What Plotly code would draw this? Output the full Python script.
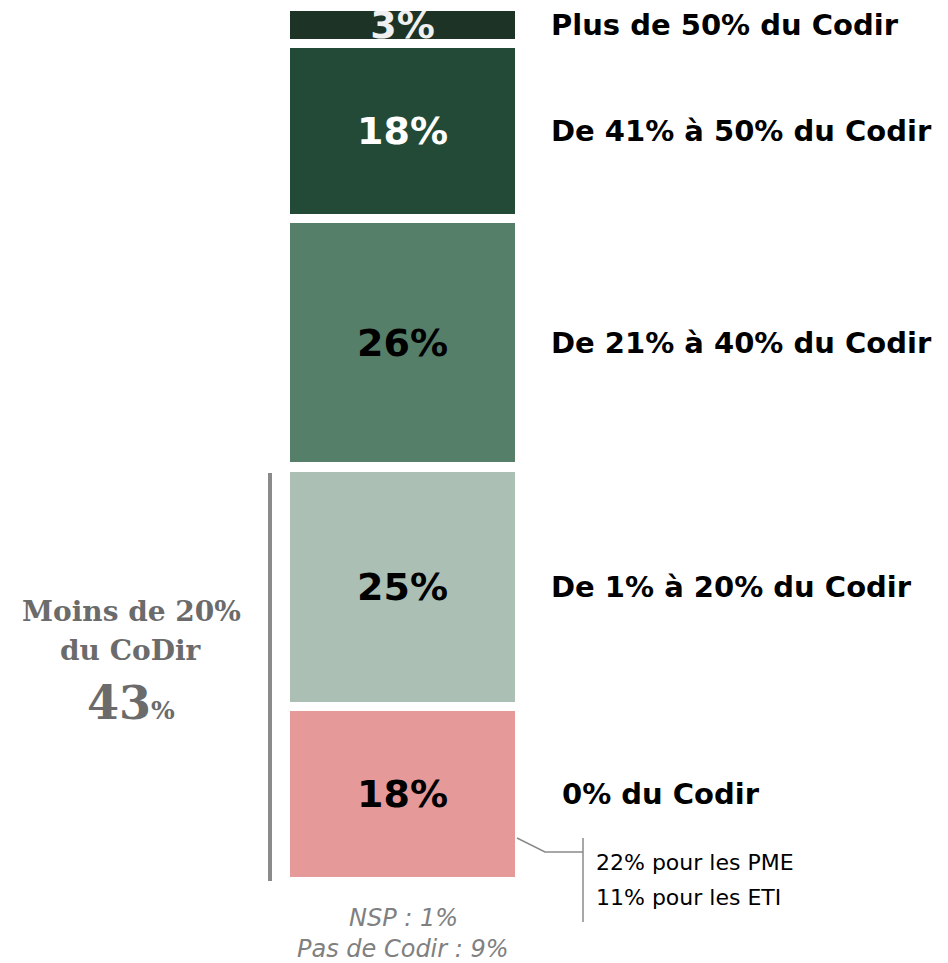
import plotly.graph_objects as go

# Data
categories = ["0% du Codir", "De 1% à 20% du Codir", "De 21% à 40% du Codir",
              "De 41% à 50% du Codir", "Plus de 50% du Codir"]
values = [18, 25, 26, 18, 3]
colors = ["#e59a99", "#acbfb5", "#567f6a", "#234a37", "#1c3326"]
text_colors = ["#000000", "#000000", "#000000", "#ffffff", "#f0f0f0"]
sub_lines = ["22% pour les PME", "11% pour les ETI"]
bottom_notes = ["NSP : 1%", "Pas de Codir : 9%"]
left_label = ["Moins de 20%", "du CoDir"]
left_total = 43

OFF = 8  # page body margin
W, H = 948 - OFF, 963 - OFF
gap = 1.0  # visual gap between segments (in % units)

bases = []
acc = 0.0
for v in values:
    bases.append(acc)
    acc += v + gap
total = acc - gap

fig = go.Figure()
fig.add_trace(go.Bar(
    x=["Codir"] * len(values),
    y=values,
    base=bases,
    marker=dict(color=colors, line=dict(width=0)),
    text=[f"{v}%" for v in values],
    textposition="inside",
    insidetextanchor="middle",
    constraintext="none",
    textangle=0,
    insidetextfont=dict(family="DejaVu Sans", size=38, color=text_colors, weight="bold"),
    cliponaxis=True,
    width=1.0,
    hoverinfo="skip",
    showlegend=False,
))

def px_x(p):
    return (p - OFF) / W

def px_y(p):
    return 1 - (p - OFF) / H

annotations = []
# Right labels at segment middles
for i, (cat, v) in enumerate(zip(categories, values)):
    mid = bases[i] + v / 2
    xpos = 560 if i == 0 else 549
    annotations.append(dict(
        x=px_x(xpos), xref="paper", y=mid, yref="y",
        text=f"<b>{cat}</b>", showarrow=False, xanchor="left", yanchor="middle",
        font=dict(family="DejaVu Sans", size=29, color="#000000"),
    ))

# Sub lines for 0%
for line, yp in zip(sub_lines, [862, 897]):
    annotations.append(dict(
        x=px_x(594), xref="paper", y=px_y(yp), yref="paper",
        text=line, showarrow=False, xanchor="left", yanchor="middle",
        font=dict(family="DejaVu Sans", size=22, color="#000000"),
    ))

# Bottom notes
for line, yp in zip(bottom_notes, [918, 949]):
    annotations.append(dict(
        x=px_x(403), xref="paper", y=px_y(yp), yref="paper",
        text=f"<i>{line}</i>", showarrow=False,
        xanchor="center", yanchor="middle",
        font=dict(family="DejaVu Sans", size=24, color="#808080"),
    ))

# Left label
for line, yp in zip(left_label, [611, 650]):
    annotations.append(dict(
        x=px_x(131), xref="paper", y=px_y(yp), yref="paper",
        text=f"<b>{line}</b>", showarrow=False,
        xanchor="center", yanchor="middle",
        font=dict(family="DejaVu Serif", size=28, color="#6b6b6b"),
    ))
annotations.append(dict(
    x=px_x(131), xref="paper", y=px_y(703), yref="paper",
    text=f"<b>{left_total}<span style='font-size:25px'>%</span></b>", showarrow=False,
    xanchor="center", yanchor="middle",
    font=dict(family="DejaVu Serif", size=46, color="#6b6b6b"),
))

shapes = [
    # left bracket line
    dict(type="line", xref="paper", yref="paper",
         x0=px_x(270), x1=px_x(270), y0=px_y(473), y1=px_y(881),
         line=dict(color="#8a8a8a", width=4)),
    # connector
    dict(type="path", xref="paper", yref="paper",
         path=f"M {px_x(517)},{px_y(838)} L {px_x(545)},{px_y(852)} L {px_x(583)},{px_y(852)}",
         line=dict(color="#8a8a8a", width=1.5)),
    dict(type="line", xref="paper", yref="paper",
         x0=px_x(583), x1=px_x(583), y0=px_y(838), y1=px_y(922),
         line=dict(color="#8a8a8a", width=1.5)),
]

fig.update_layout(
    width=W, height=H,
    margin=dict(l=0, r=0, t=0, b=0),
    paper_bgcolor="white", plot_bgcolor="white",
    bargap=0,
    xaxis=dict(domain=[px_x(290), px_x(515)], visible=False, fixedrange=True),
    yaxis=dict(domain=[px_y(877), px_y(11)], range=[0, total], visible=False, fixedrange=True),
    annotations=annotations,
    shapes=shapes,
    showlegend=False,
)

fig.write_html("out.html")
